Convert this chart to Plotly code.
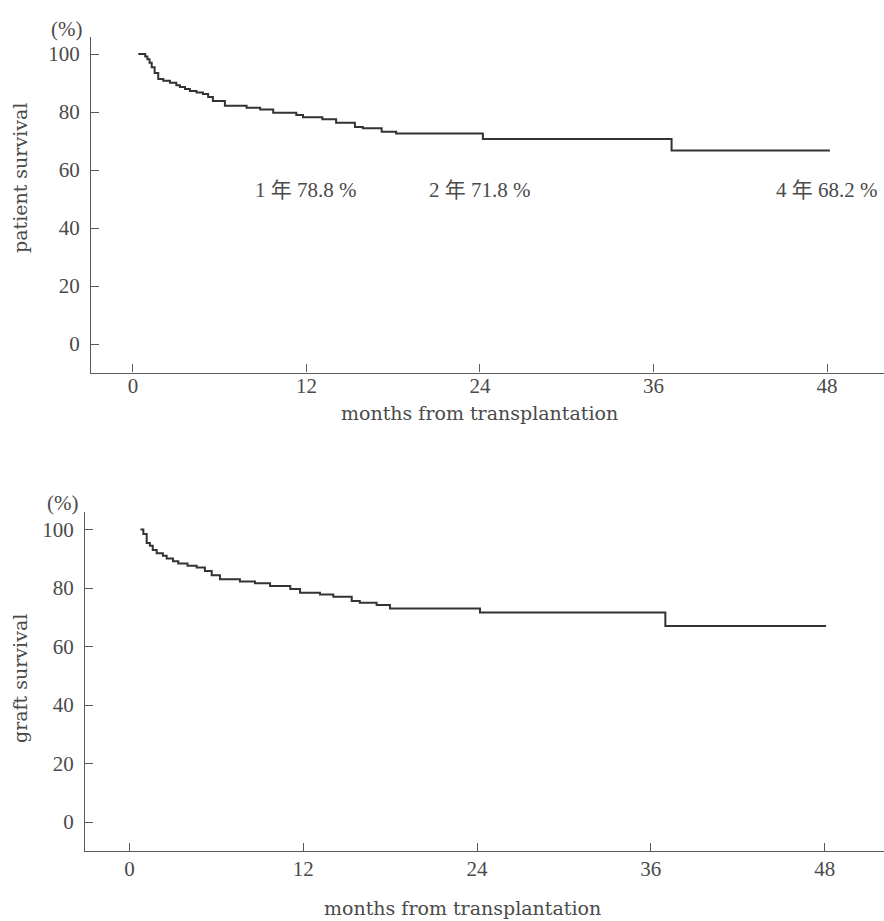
import plotly.graph_objects as go

# ---- data ----
patient_months = [0.37, 0.85, 1.0, 1.15, 1.3, 1.5, 1.75, 2.1, 2.56, 3.0, 3.25, 3.6, 3.94, 4.4,
                  4.84, 5.2, 5.53, 6.36, 7.86, 8.8, 9.7, 11.3, 11.76, 13.1, 14.05, 15.35, 15.9,
                  17.2, 18.2, 24.2, 37.25, 48.2]
patient_surv = [100, 99.2, 98.2, 97.0, 95.5, 93.5, 91.4, 90.8, 90.1, 89.3, 88.7, 88.0, 87.3, 86.8,
                86.2, 85.2, 83.8, 82.2, 81.5, 80.9, 79.8, 79.0, 78.2, 77.5, 76.3, 74.9, 74.4,
                73.2, 72.6, 70.7, 66.8, 66.8]

graft_months = [0.75, 0.95, 1.18, 1.4, 1.6, 1.87, 2.3, 2.56, 3.0, 3.36, 4.0, 4.63, 5.2, 5.67,
                6.24, 7.62, 8.66, 9.7, 11.1, 11.77, 13.15, 14.07, 15.34, 15.9, 17.06, 17.98,
                24.2, 37.0, 48.1]
graft_surv = [100, 98.5, 95.4, 94.5, 93.0, 91.9, 91.0, 90.1, 89.2, 88.4, 87.6, 87.0, 85.8, 84.4,
              83.0, 82.2, 81.6, 80.7, 79.7, 78.4, 77.8, 77.0, 75.6, 75.0, 74.2, 73.0,
              71.6, 67.0, 67.0]

x_ticks = [0, 12, 24, 36, 48]
y_ticks = [0, 20, 40, 60, 80, 100]

label_months = [12, 24, 48]
label_texts = ["1 年 78.8 %", "2 年 71.8 %", "4 年 68.2 %"]
label_y = 53

W, H = 884, 921
TICKFONT = dict(family="Liberation Serif, Noto Sans CJK JP", size=21, color="#4a4a4a")
TITLEFONT = dict(family="DejaVu Serif, Liberation Serif", size=19, color="#4a4a4a")
AXCOL = "#5a5a5a"
LINECOL = "#333333"


def px_x(p):
    return p / W


def px_y(p):
    return 1 - p / H


fig = go.Figure()
fig.add_trace(go.Scatter(x=patient_months, y=patient_surv, mode="lines",
                         line=dict(shape="hv", color=LINECOL, width=2),
                         xaxis="x", yaxis="y", showlegend=False, hoverinfo="skip"))
fig.add_trace(go.Scatter(x=graft_months, y=graft_surv, mode="lines",
                         line=dict(shape="hv", color=LINECOL, width=2),
                         xaxis="x2", yaxis="y2", showlegend=False, hoverinfo="skip"))

common_x = dict(tickvals=x_ticks, ticks="inside", ticklen=8, tickcolor=AXCOL, tickwidth=1,
                showline=True, linecolor=AXCOL, linewidth=1.3, showgrid=False, zeroline=False,
                tickfont=TICKFONT)
common_y = dict(tickvals=y_ticks, ticks="inside", ticklen=8, tickcolor=AXCOL, tickwidth=1,
                showline=True, linecolor=AXCOL, linewidth=1.3, showgrid=False, zeroline=False,
                tickfont=TICKFONT, ticklabelstandoff=6)

fig.update_layout(
    width=W, height=H,
    margin=dict(l=0, r=0, t=0, b=0),
    paper_bgcolor="white", plot_bgcolor="white",
    xaxis=dict(common_x, domain=[px_x(91), 1], range=[-2.9, 51.94], anchor="y",
               ticklabelstandoff=-6),
    yaxis=dict(common_y, domain=[px_y(372.5), px_y(37)], range=[-9.8, 105.9], anchor="x"),
    xaxis2=dict(common_x, domain=[px_x(85), 1], range=[-3.08, 52.1], anchor="y2",
                ticklabelstandoff=-1),
    yaxis2=dict(common_y, domain=[px_y(851), px_y(512)], range=[-9.9, 106], anchor="x2"),
)

annotations = []
for m, t in zip(label_months, label_texts):
    annotations.append(dict(x=m, y=label_y, xref="x", yref="y", text=t, showarrow=False,
                            font=TICKFONT, xanchor="center", yanchor="middle"))

# (%) units labels
annotations.append(dict(x=px_x(66), y=px_y(29), xref="paper", yref="paper", text="(%)",
                        showarrow=False, font=TICKFONT, xanchor="center", yanchor="middle"))
annotations.append(dict(x=px_x(62), y=px_y(503), xref="paper", yref="paper", text="(%)",
                        showarrow=False, font=TICKFONT, xanchor="center", yanchor="middle"))
# axis titles
annotations.append(dict(x=px_x(20), y=px_y(178), xref="paper", yref="paper",
                        text="patient survival", textangle=-90, showarrow=False,
                        font=TITLEFONT, xanchor="center", yanchor="middle"))
annotations.append(dict(x=px_x(20), y=px_y(679), xref="paper", yref="paper",
                        text="graft survival", textangle=-90, showarrow=False,
                        font=TITLEFONT, xanchor="center", yanchor="middle"))
annotations.append(dict(x=px_x(480), y=px_y(413), xref="paper", yref="paper",
                        text="months from transplantation", showarrow=False,
                        font=TITLEFONT, xanchor="center", yanchor="middle"))
annotations.append(dict(x=px_x(462), y=px_y(908), xref="paper", yref="paper",
                        text="months from transplantation", showarrow=False,
                        font=TITLEFONT, xanchor="center", yanchor="middle"))

fig.update_layout(annotations=annotations)

fig.write_html("out.html")
